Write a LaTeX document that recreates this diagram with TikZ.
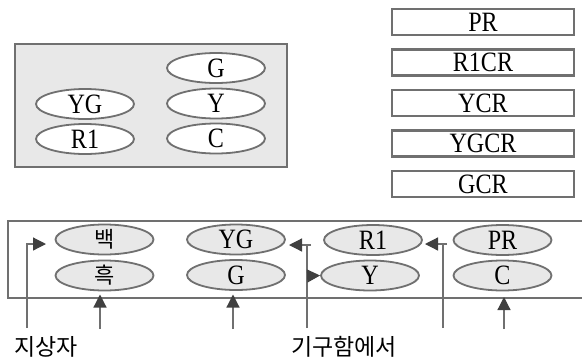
\documentclass[tikz,border=0pt]{standalone}
\usepackage{fontspec}
\setmainfont{Liberation Serif}[FakeStretch=0.86]
\newfontfamily\kr{Noto Sans CJK KR}
\usetikzlibrary{shapes.geometric,arrows.meta}
\definecolor{edge}{HTML}{707070}
\definecolor{panelfill}{HTML}{E8E8E8}
\definecolor{tipc}{HTML}{404040}
\tikzset{
  lbl/.style={font=\fontsize{28}{28}\selectfont},
  oval/.style={ellipse, draw=edge, line width=1.8pt, inner sep=0pt,
    minimum width=98pt, minimum height=30pt, lbl},
  topoval/.style={oval, fill=white},
  botoval/.style={oval, fill=panelfill},
  crbox/.style={rectangle, draw=edge, line width=2.8pt, fill=white, inner sep=0pt,
    minimum width=182pt, minimum height=26pt, lbl},
  panel/.style={draw=edge, line width=2.4pt, fill=panelfill},
  bpanel/.style={draw=edge, line width=2.4pt, fill=white},
  feed/.style={draw=edge, line width=1.2pt},
  feedarr/.style={feed, -{Triangle[length=13pt,width=13pt,color=tipc]}},
  krlbl/.style={font=\kr\fontsize{23}{23}\selectfont},
  krin/.style={font=\kr\fontsize{22}{22}\selectfont}
}
\begin{document}
\begin{tikzpicture}[x=1pt,y=-1pt]
\useasboundingbox (0,0) rectangle (582,360);
% top-left panel
\path[panel] (15,44) rectangle (287,167);
\node[topoval] (tG) at (216,68) {G};
\node[topoval] (tY) at (216,103.5) {Y};
\node[topoval] (tC) at (216,138.5) {C};
\node[topoval] (tYG) at (85,104) {YG};
\node[topoval] (tR1) at (85,139) {R1};
% right boxes
\node[crbox] (bPR) at (483,22) {PR};
\node[crbox] (bR1CR) at (483,62.5) {R1CR};
\node[crbox] (bYCR) at (483,103) {YCR};
\node[crbox] (bYGCR) at (483,143.5) {YGCR};
\node[crbox] (bGCR) at (483,184) {GCR};
% bottom panel
\begin{scope}
\clip (0,0) rectangle (582,360);
\path[bpanel] (8,221) rectangle (600,298);
\end{scope}
\node[botoval, krin] (baek) at (104.5,239.5) {백};
\node[botoval, krin] (heuk) at (104.5,275.5) {흑};
\node[botoval] (bYG) at (236,239.5) {YG};
\node[botoval] (bG) at (236,275) {G};
\node[botoval] (bR1) at (373,240) {R1};
\node[botoval] (bY) at (370,275.5) {Y};
\node[botoval] (bPRo) at (502.5,240) {PR};
\node[botoval] (bC) at (502.5,275.5) {C};
% labels
\node[krlbl] (ljs) at (46,347) {지상자};
\node[krlbl] (lgh) at (344,347) {기구함에서};
% connector anchors
\coordinate (s1) at (27,328);
\coordinate (t1) at (46,244);
\coordinate (s2) at (307,328);
\coordinate (k2) at (307,245);
\coordinate (h2) at (311,245);
\coordinate (e2) at (289,245);
\coordinate (y2) at (307,276);
\coordinate (s3) at (443,328);
\coordinate (k3) at (443,244);
\coordinate (h3) at (447,244);
\coordinate (e3) at (425,244);
\coordinate (u1) at (100,329);
\coordinate (u2) at (233,329);
\coordinate (u3) at (504,329);
\draw[feedarr] (s1) |- (t1);
\draw[feed] (s2) -- (k2);
\draw[feedarr] (h2) -- (e2);
\draw[feedarr] (y2) -- (bY.west);
\draw[feed] (s3) -- (k3);
\draw[feedarr] (h3) -- (e3);
\draw[feedarr] (u1) -- (100,294.5);
\draw[feedarr] (u2) -- (233,294.5);
\draw[feedarr] (u3) -- (504,297);
\end{tikzpicture}
\end{document}
